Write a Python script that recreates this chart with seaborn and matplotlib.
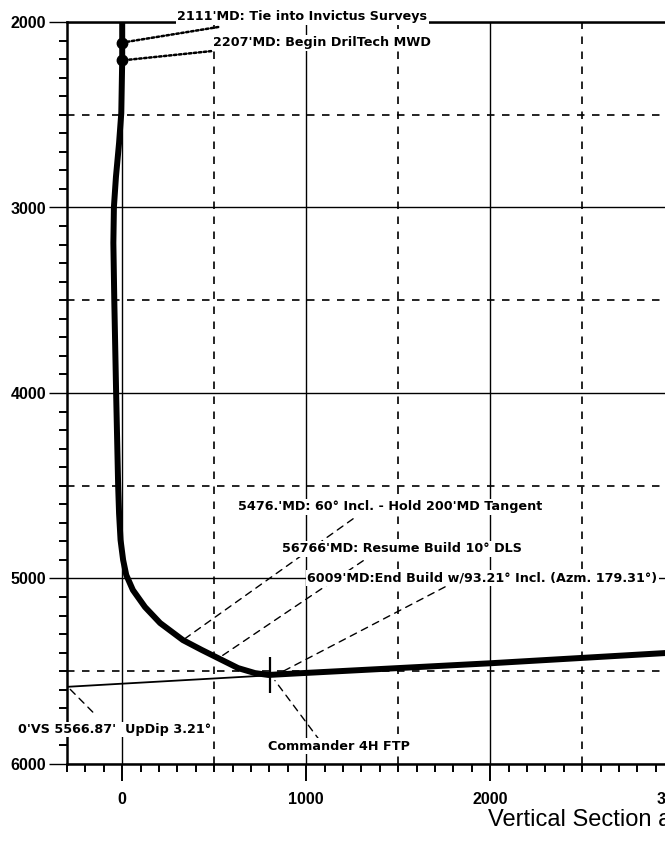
import numpy as np
import seaborn as sns
import matplotlib.pyplot as plt
from matplotlib.ticker import MultipleLocator, FixedLocator

# well path: vertical section (ft) vs TVD (ft)
vs = [0, 0, 0, -5, -17, -34, -45, -48, -43, -33, -22, -17, -9, 5, 22, 58,
      124, 206, 330, 432, 541, 630, 722, 795, 941, 2000, 2950, 3600]
tvd = [2000, 2111, 2207, 2491, 2652, 2835, 2997, 3191, 3500, 4000, 4500, 4650,
       4792, 4900, 4981, 5062, 5154, 5240, 5332, 5385, 5439, 5483, 5510, 5520,
       5512, 5457, 5402, 5365]

# survey points marked with dots
survey_vs = [0, 0]
survey_tvd = [2111, 2207]

# target line (0'VS 5566.87', updip 3.21 deg)
target_vs = [-300, 0, 3600]
target_tvd = [5584, 5567, 5365]

# first take point
ftp_vs = [804]
ftp_tvd = [5522]

# annotations: text, text anchor, leader start, leader end, leader style
notes = [
    ("2111'MD: Tie into Invictus Surveys", (299, 1973), (0, 2111), (522, 2027), 'dot'),
    ("2207'MD: Begin DrilTech MWD", (495, 2113), (0, 2207), (484, 2157), 'dot'),
    ("5476.'MD: 60° Incl. - Hold 200'MD Tangent", (630, 4613), (330, 5332), (1255, 4678), 'dash'),
    ("56766'MD: Resume Build 10° DLS", (870, 4839), (520, 5432), (1310, 4904), 'dash'),
    ("6009'MD:End Build w/93.21° Incl. (Azm. 179.31°)", (1005, 4996), (875, 5500), (1755, 5045), 'dash'),
    ("0'VS 5566.87'  UpDip 3.21°", (-565, 5814), (-290, 5590), (-160, 5720), 'dash'),
    ("Commander 4H FTP", (793, 5903), (830, 5550), (1075, 5875), 'dash'),
]

xticks = [0, 1000, 2000, 3000]
yticks = [2000, 3000, 4000, 5000, 6000]

sns.set_theme(style='white')
plt.rcParams['font.family'] = ['DejaVu Sans']

W, H = 665, 847
fig = plt.figure(figsize=(W / 100, H / 100), dpi=100)
# axes runs past the right edge of the picture like the cropped scan
ax = fig.add_axes([67 / W, (H - 764) / H, 736 / W, (764 - 22) / H])
ax.set_xlim(-300, 3700)
ax.set_ylim(6000, 2000)

# grid: solid every 1000, dashed half way
ax.xaxis.set_major_locator(FixedLocator(xticks))
ax.yaxis.set_major_locator(FixedLocator(yticks))
ax.xaxis.set_minor_locator(MultipleLocator(100))
ax.yaxis.set_minor_locator(MultipleLocator(100))
ax.grid(True, which='major', color='black', lw=1.0, ls='-')
for x in np.arange(500, 3700, 1000):
    ax.axvline(x, color='black', lw=1.2, ls=(0, (4.5, 4.5)), zorder=0.5)
for y in np.arange(2500, 6000, 1000):
    ax.axhline(y, color='black', lw=1.2, ls=(0, (4.5, 4.5)), zorder=0.5)

for s in ['left', 'bottom', 'top']:
    ax.spines[s].set_color('black')
    ax.spines[s].set_linewidth(1.8)
ax.spines['right'].set_visible(False)

ax.tick_params(axis='x', which='major', direction='out', length=12, width=1.4,
               color='black', pad=8, bottom=True)
ax.tick_params(axis='x', which='minor', direction='out', length=6, width=1.4,
               color='black', bottom=True)
ax.tick_params(axis='y', which='major', direction='out', length=13, width=1.0,
               color='black', pad=2, left=True)
ax.tick_params(axis='y', which='minor', direction='out', length=6, width=1.4,
               color='black', left=True)
for lab in ax.get_xticklabels() + ax.get_yticklabels():
    lab.set_fontfamily('Liberation Sans')
    lab.set_fontweight('bold')
    lab.set_fontsize(11.5)
    lab.set_color('black')

# target line and well path
ax.plot(target_vs, target_tvd, color='black', lw=1.3, zorder=2)
sns.lineplot(x=vs, y=tvd, sort=False, estimator=None, color='black', lw=4.3,
             ax=ax, zorder=3, solid_joinstyle='round', solid_capstyle='butt')
ax.plot(survey_vs, survey_tvd, 'o', color='black', ms=7.5, zorder=4)
ax.plot(ftp_vs, ftp_tvd, '|', color='black', ms=26, mew=1.6, zorder=4)

for text, pos, p0, p1, style in notes:
    ls = (0, (1, 1)) if style == 'dot' else (0, (5, 4))
    lw = 1.8 if style == 'dot' else 1.0
    ax.annotate('', xy=p0, xytext=p1, annotation_clip=False,
                arrowprops=dict(arrowstyle='-', color='black', lw=lw, ls=ls,
                                shrinkA=0, shrinkB=0))
    ax.text(pos[0], pos[1], text, ha='left', va='center', fontsize=9.2,
            fontweight='bold', color='black', clip_on=False, zorder=6,
            bbox=dict(facecolor='white', edgecolor='none', pad=1.0))

ax.set_xlabel('')
ax.set_ylabel('')
fig.text(488 / W, 1 - 820 / H, 'Vertical Section at 179.31° (ft)', ha='left',
         va='center', fontsize=17, family='Liberation Sans', color='black')

fig.savefig('out.png', dpi=100, facecolor='white')
